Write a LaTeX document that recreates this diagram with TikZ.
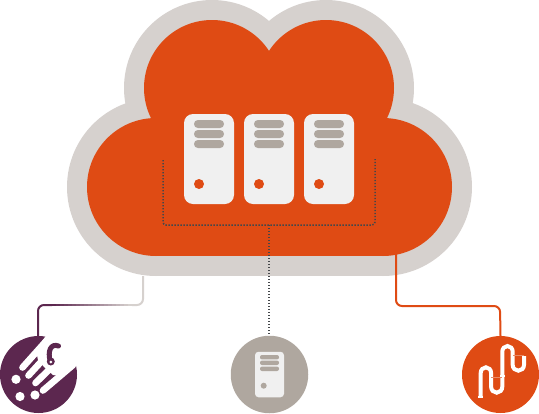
\documentclass[tikz,border=0pt]{standalone}
\usetikzlibrary{positioning}
\definecolor{cloudfill}{HTML}{DF4B14}
\definecolor{cloudrim}{HTML}{D6D1CE}
\definecolor{srvwhite}{HTML}{F0F0F0}
\definecolor{srvgrey}{HTML}{AFA79F}
\definecolor{plum}{HTML}{5C274F}
\definecolor{busdark}{HTML}{44474A}
\begin{document}
\begin{tikzpicture}[
        x=1pt, y=-1pt,
        serverbox/.style={rectangle, fill=srvwhite, rounded corners=9pt, minimum width=50pt, minimum height=90pt, inner sep=0pt},
        srvbar/.style={rectangle, fill=srvgrey, rounded corners=3.9pt, minimum width=30pt, minimum height=8pt, inner sep=0pt},
        srvled/.style={circle, fill=cloudfill, minimum size=10pt, inner sep=0pt},
        smallbar/.style={rectangle, fill=srvgrey, rounded corners=2pt, minimum width=19pt, minimum height=4.4pt, inner sep=0pt},
        endpoint/.style={circle, minimum size=77pt, inner sep=0pt},
        busline/.style={draw=busdark, line width=1.5pt, dash pattern=on 1.4pt off 1.6pt, rounded corners=3pt},
        linkline/.style={line width=2pt, rounded corners=6pt},
        pipe/.style={draw=white, line width=4pt}
    ]
    \useasboundingbox (0,0) rectangle (539,413);

    % cloud
    \foreach \lobex/\lobey/\rad in {212/88/68, 326/88/68, 156/187/69, 383/187/69}
        \fill[cloudrim] (\lobex,\lobey) circle ({(\rad+20)*1pt});
    \fill[cloudrim] (156,98) rectangle (383,276);
    \foreach \lobex/\lobey/\rad in {212/88/68, 326/88/68, 156/187/69, 383/187/69}
        \fill[cloudfill] (\lobex,\lobey) circle ({\rad*1pt});
    \fill[cloudfill] (156,118) rectangle (383,256);

    % servers
    \foreach \i/\x in {1/209, 2/269, 3/329} {
        \node[serverbox] (srv\i) at (\x,159) {};
        \node[srvbar] (srv\i a) at (\x,124) {};
        \node[srvbar] (srv\i b) at (\x,134) {};
        \node[srvbar] (srv\i c) at (\x,144) {};
        \node[srvled] (srv\i d) at (\x-10,184) {};
    }

    % end points
    \node[endpoint, fill=plum] (comet) at (38.5,374.5) {};
    \node[endpoint, fill=srvgrey, minimum size=77.5pt] (backup) at (269.5,374.5) {};
    \node[endpoint, fill=cloudfill] (pipes) at (500.5,374.5) {};

    % links
    \coordinate (busL) at (163,160);
    \coordinate (busR) at (375,159);
    \coordinate (busM) at (269,225);
    \draw[busline] (busL) |- (busM) -| (busR);
    \draw[busline] (busM) -- (backup.north -| busM);

    \coordinate (rimL) at (143,276);
    \coordinate (rimR) at (396,254);
    \coordinate (fadeA) at (52,305);
    \coordinate (fadeB) at (132,305);
    \coordinate (turnR) at (500,306);
    \draw[linkline, draw=plum] (comet.north -| 38,0) |- (fadeA);
    \foreach \k in {0,...,19}
        \pgfmathsetmacro{\mixval}{\k*100/19}
        \fill[cloudrim!\mixval!plum] (52+\k*4,304) rectangle (57+\k*4,306);
    \draw[linkline, draw=cloudrim] (fadeB) -| (rimL);
    \draw[linkline, draw=cloudfill] (rimR) |- (turnR) -- (pipes.north);

    % comet icon
    \fill[white] (50,330) -- (90,352) -- (75.5,365) -- (60,376) -- (53,375) -- (45,368) -- (38,360) -- (36,350) -- cycle;
    \foreach \ax/\ay/\bx/\by in {22.5/367.5/48/339, 28.5/375.5/50/352, 35.5/383/58/361, 43/390.5/73/365}
        \draw[white, line width=6.6pt, line cap=round] (\ax,\ay) -- (\bx,\by);
    \draw[plum, line width=5pt, line cap=round] (58.5,346) .. controls (51,343) and (47,351) .. (50.5,362);
    \fill[plum] (50.8,361.5) circle (4pt);
    \fill[white] (50.8,362) circle (1.5pt);
    \foreach \spotx/\spoty in {16/379.3, 20/396.5, 35/395}
        \fill[white] (\spotx,\spoty) circle (4.6pt);

    % small server icon
    \node[rectangle, fill=srvwhite, rounded corners=3.5pt, minimum width=29pt, minimum height=45.5pt, inner sep=0pt] (smallsrv) at (269.5,374.5) {};
    \node[smallbar] (smalla) at (269.5,357.2) {};
    \node[smallbar] (smallb) at (269.5,362.8) {};
    \node[smallbar] (smallc) at (269.5,368.8) {};
    \node[circle, fill=srvgrey, minimum size=6pt, inner sep=0pt] (smalld) at (263.7,385.7) {};

    % pipe icon
    \draw[pipe] (480.7,396) -- (480.7,373) arc[start angle=180, end angle=360, x radius=5.2, y radius=5.7]
        -- (491.1,386.7) arc[start angle=180, end angle=0, x radius=5.6, y radius=6]
        -- (502.3,351.7) arc[start angle=180, end angle=360, x radius=5.2, y radius=5.7]
        -- (512.7,365) arc[start angle=180, end angle=0, x radius=5.65, y radius=5.7]
        -- (524,356);
    \fill[white] (478,395.5) rectangle (483.4,397.5);
    \fill[white] (499.6,374.5) rectangle (505,376.5);
    \draw[cloudfill!65!white, line width=.5pt] (491,377) -- (502,377);
    \draw[cloudfill!65!white, line width=.5pt] (513,355) -- (524,355);
\end{tikzpicture}
\end{document}
